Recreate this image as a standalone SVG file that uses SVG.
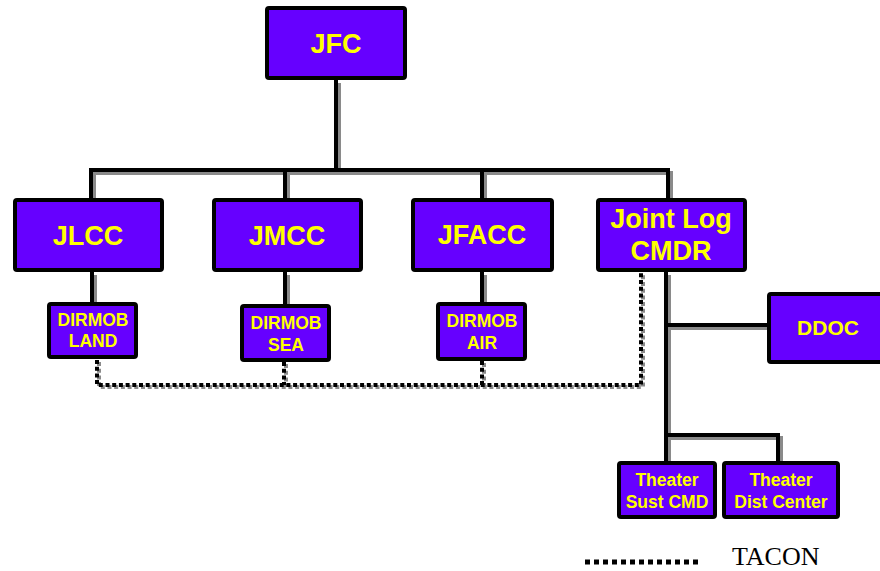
<svg xmlns="http://www.w3.org/2000/svg" width="880" height="571" viewBox="0 0 880 571">
<style>
.box{fill:#6600FF;stroke:#000;stroke-width:4}
.t{font-family:"Liberation Sans",Arial,sans-serif;font-weight:bold;fill:#FFFF00;text-anchor:middle}
.big{font-size:27px}
.sm{font-size:17.5px}
.ln{stroke:#000;stroke-width:4;fill:none}
.sh{stroke:#8a8a8a;stroke-width:4;fill:none}
.dt{stroke:#000;stroke-width:4;fill:none;stroke-dasharray:4 2.7}
.dts{stroke:#8a8a8a;stroke-width:4;fill:none;stroke-dasharray:4 2.7}
</style>
<rect width="880" height="571" fill="#fff"/>
<g id="connectors">
  <g class="sh" transform="translate(3,3)">
    <path d="M336 80V170M91 199V170H668V199M285 170V199M482 170V199"/>
    <path d="M92 272V302M285 272V304M482 272V302"/>
    <path d="M666 272V461M668 325H768M668 435H778V461"/>
  </g>
  <g class="ln">
    <path d="M336 80V170M91 199V170H668V199M285 170V199M482 170V199"/>
    <path d="M92 272V302M285 272V304M482 272V302"/>
    <path d="M666 272V461M668 325H768M668 435H778V461"/>
  </g>
  <g class="dts" transform="translate(2,2)">
    <path d="M97 360V385H641V272M284 362V385M482 361V385"/>
  </g>
  <g class="dt">
    <path d="M97 360V385H641V272M284 362V385M482 361V385"/>
  </g>
</g>
<g id="JFC"><rect class="box" x="267" y="8" width="138" height="70" rx="2"/><text class="t big" x="336" y="53">JFC</text></g>
<g id="JLCC"><rect class="box" x="15" y="200" width="147" height="70" rx="2"/><text class="t big" x="88" y="245">JLCC</text></g>
<g id="JMCC"><rect class="box" x="214" y="200" width="147" height="70" rx="2"/><text class="t big" x="287" y="245">JMCC</text></g>
<g id="JFACC"><rect class="box" x="413" y="200" width="139" height="70" rx="2"/><text class="t big" x="482" y="244">JFACC</text></g>
<g id="JointLogCMDR"><rect class="box" x="598" y="200" width="147" height="70" rx="2"/><text class="t big" x="671" y="228">Joint Log</text><text class="t big" x="671" y="260">CMDR</text></g>
<g id="DIRMOB_LAND"><rect class="box" x="49" y="304" width="87" height="53" rx="2"/><text class="t sm" x="93" y="326">DIRMOB</text><text class="t sm" x="93" y="347">LAND</text></g>
<g id="DIRMOB_SEA"><rect class="box" x="242" y="306" width="87" height="54" rx="2"/><text class="t sm" x="286" y="329">DIRMOB</text><text class="t sm" x="286" y="351">SEA</text></g>
<g id="DIRMOB_AIR"><rect class="box" x="438" y="304" width="87" height="55" rx="2"/><text class="t sm" x="482" y="327">DIRMOB</text><text class="t sm" x="482" y="349">AIR</text></g>
<g id="DDOC"><rect class="box" x="769" y="294" width="122" height="68" rx="2"/><text class="t" style="font-size:21px" x="828" y="335">DDOC</text></g>
<g id="TheaterSustCMD"><rect class="box" x="619" y="463" width="96" height="54" rx="2"/><text class="t sm" x="667" y="486">Theater</text><text class="t sm" x="667" y="508">Sust CMD</text></g>
<g id="TheaterDistCenter"><rect class="box" x="724" y="463" width="114" height="54" rx="2"/><text class="t sm" x="781" y="486">Theater</text><text class="t sm" x="781" y="508">Dist Center</text></g>
<g id="legend">
  <path d="M585 562H700" stroke="#000" stroke-width="5" stroke-dasharray="5 4" fill="none"/>
  <text x="732" y="565" style="font-family:'Liberation Serif','Times New Roman',serif;font-size:26px;fill:#000">TACON</text>
</g>
</svg>
